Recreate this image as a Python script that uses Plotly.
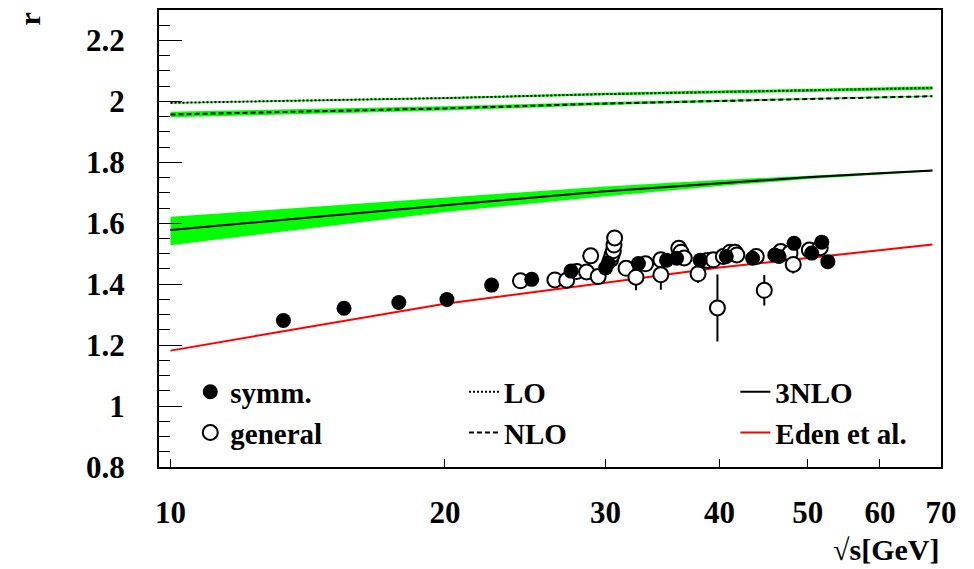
import plotly.graph_objects as go

# --- theory curves (sqrt(s) in GeV) ---
curve_x = [10, 15, 20, 30, 40, 50, 60, 68.5]
lo_y = [1.995, 2.004, 2.011, 2.024, 2.031, 2.036, 2.041, 2.044]
lo_err = [0.002, 0.002, 0.003, 0.004, 0.005, 0.005, 0.006, 0.006]
nlo_y = [1.957, 1.968, 1.977, 1.993, 2.002, 2.009, 2.014, 2.017]
nlo_err = [0.009, 0.008, 0.007, 0.005, 0.004, 0.003, 0.002, 0.002]
n3lo_y = [1.578, 1.626, 1.659, 1.705, 1.732, 1.751, 1.764, 1.773]
n3lo_up = [0.043, 0.032, 0.023, 0.016, 0.010, 0.006, 0.004, 0.003]
n3lo_dn = [0.050, 0.034, 0.022, 0.016, 0.010, 0.006, 0.004, 0.003]
eden_y = [1.182, 1.272, 1.336, 1.405, 1.455, 1.486, 1.511, 1.530]

# --- measurements ---
symm_x = [13.3, 15.5, 17.8, 20.1, 22.5, 24.9, 27.5, 30.0, 30.2, 32.6, 35.0,
          35.9, 38.1, 40.7, 43.5, 46.0, 46.5, 48.3, 50.5, 51.8, 52.6]
symm_y = [1.281, 1.321, 1.340, 1.350, 1.397, 1.416, 1.443, 1.453, 1.469, 1.468,
          1.479, 1.485, 1.479, 1.491, 1.485, 1.496, 1.491, 1.534, 1.502, 1.538, 1.474]
symm_err = [0.01] * len(symm_x)

gen_x = [24.2, 26.4, 27.2, 27.9, 28.6, 28.9, 29.45, 30.4, 30.5, 30.6, 30.65, 30.7,
         31.6, 32.4, 33.2, 34.5, 34.5, 36.1, 36.3, 36.6, 37.9, 38.8, 39.4, 39.8,
         40.4, 41.1, 41.6, 41.8, 43.9, 44.8, 46.7, 47.8, 48.2, 50.2, 51.6]
gen_y = [1.411, 1.414, 1.413, 1.442, 1.440, 1.493, 1.425, 1.481, 1.496, 1.510, 1.529, 1.552,
         1.452, 1.423, 1.467, 1.480, 1.431, 1.518, 1.505, 1.486, 1.434, 1.478, 1.480, 1.322,
         1.491, 1.505, 1.505, 1.496, 1.491, 1.380, 1.507, 1.502, 1.465, 1.512, 1.520]
gen_err = [0.01, 0.01, 0.01, 0.01, 0.01, 0.01, 0.01, 0.01, 0.01, 0.01, 0.01, 0.01,
           0.01, 0.043, 0.01, 0.01, 0.049, 0.01, 0.01, 0.01, 0.03, 0.01, 0.01, 0.11,
           0.01, 0.01, 0.01, 0.01, 0.01, 0.05, 0.01, 0.01, 0.03, 0.01, 0.01]

# --- axis ticks ---
x_ticks = [10, 20, 30, 40, 50, 60, 70]
x_ticklabels = ["10", "20", "30", "40", "50", "60", "70"]
y_ticks = [0.8, 1.0, 1.2, 1.4, 1.6, 1.8, 2.0, 2.2]
y_ticklabels = ["0.8", "1", "1.2", "1.4", "1.6", "1.8", "2", "2.2"]

GREEN = "#00ff00"
FONT = "Liberation Serif"

fig = go.Figure()


def band(center, up, dn):
    hi = [c + u for c, u in zip(center, up)]
    lo = [c - d for c, d in zip(center, dn)]
    fig.add_trace(go.Scatter(
        x=curve_x + curve_x[::-1], y=hi + lo[::-1],
        fill="toself", fillcolor=GREEN, line=dict(width=0, color=GREEN),
        mode="lines", showlegend=False, hoverinfo="skip"))


band(lo_y, lo_err, lo_err)
band(nlo_y, nlo_err, nlo_err)
band(n3lo_y, n3lo_up, n3lo_dn)

fig.add_trace(go.Scatter(x=curve_x, y=lo_y, mode="lines", name="LO",
                         line=dict(color="black", width=2, dash="2px,2px"),
                         legend="legend2", legendrank=1))
fig.add_trace(go.Scatter(x=curve_x, y=nlo_y, mode="lines", name="NLO",
                         line=dict(color="black", width=2, dash="5px,3px"),
                         legend="legend2", legendrank=2))
fig.add_trace(go.Scatter(x=curve_x, y=n3lo_y, mode="lines", name="3NLO",
                         line=dict(color="black", width=2),
                         legend="legend3", legendrank=1))
fig.add_trace(go.Scatter(x=curve_x, y=eden_y, mode="lines", name="Eden et al.",
                         line=dict(color="red", width=2),
                         legend="legend3", legendrank=2))

fig.add_trace(go.Scatter(
    x=gen_x, y=gen_y, mode="markers", name="general",
    marker=dict(symbol="circle", size=15, color="white",
                line=dict(color="black", width=2)),
    error_y=dict(type="data", array=gen_err, color="black", thickness=2, width=0),
    legend="legend", legendrank=2))
fig.add_trace(go.Scatter(
    x=symm_x, y=symm_y, mode="markers", name="symm.",
    marker=dict(symbol="circle", size=15, color="black",
                line=dict(color="black", width=0)),
    error_y=dict(type="data", array=symm_err, color="black", thickness=2, width=0),
    legend="legend", legendrank=1))

legend_common = dict(
    bgcolor="rgba(0,0,0,0)", borderwidth=0,
    font=dict(family=FONT, size=29, color="black", weight="bold"),
    xanchor="left", yanchor="top", y=0.22, traceorder="normal",
    tracegroupgap=0,
)

fig.update_layout(
    width=974, height=569,
    margin=dict(l=159, r=33, t=8, b=102),
    paper_bgcolor="white", plot_bgcolor="white",
    font=dict(family=FONT, size=30, color="black", weight="bold"),
    legend=dict(x=0.04, **legend_common),
    legend2=dict(x=0.39, **legend_common),
    legend3=dict(x=0.737, **legend_common),
    xaxis=dict(
        type="log", range=[0.9874, 1.8451],
        tickvals=x_ticks, ticktext=x_ticklabels,
        ticks="inside", ticklen=8, tickwidth=1, tickcolor="black",
        showline=True, linecolor="black", linewidth=2, mirror=True,
        showgrid=False, zeroline=False, ticklabelstandoff=17,
        tickfont=dict(family=FONT, size=31, weight="bold"),
    ),
    yaxis=dict(
        range=[0.8, 2.3],
        tickvals=y_ticks, ticktext=y_ticklabels,
        ticks="inside", ticklen=23, tickwidth=1, tickcolor="black",
        minor=dict(dtick=0.05, ticks="inside", ticklen=11, tickwidth=1,
                   tickcolor="black", showgrid=False),
        showline=True, linecolor="black", linewidth=2, mirror=True,
        showgrid=False, zeroline=False, ticklabelstandoff=26,
        tickfont=dict(family=FONT, size=31, weight="bold"),
    ),
    annotations=[
        dict(text="√s[GeV]", xref="paper", yref="paper", x=1.0, y=-0.18,
             xanchor="right", yanchor="middle", showarrow=False,
             font=dict(family=FONT, size=30, weight="bold")),
        dict(text="r", xref="paper", yref="paper", x=-0.165, y=1.0,
             xanchor="center", yanchor="top", textangle=-90, showarrow=False,
             font=dict(family=FONT, size=30, weight="bold")),
    ],
)

fig.write_html("out.html")
